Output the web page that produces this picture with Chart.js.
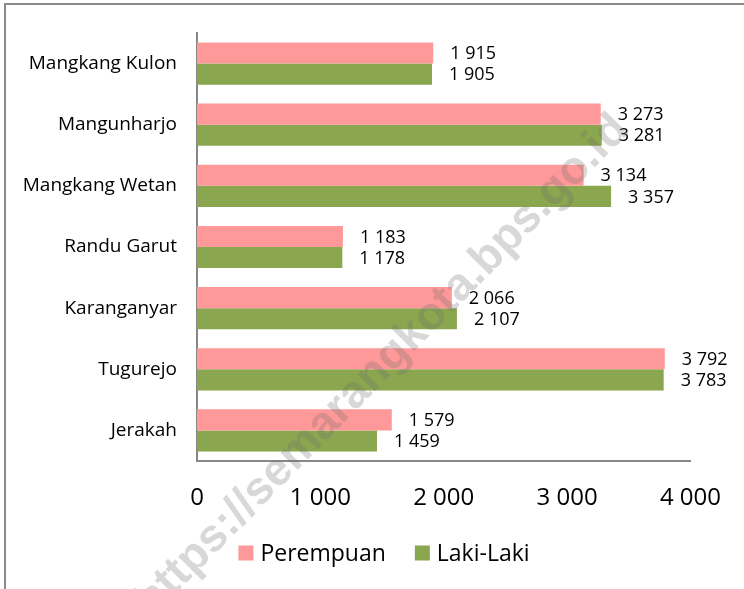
<!DOCTYPE html>
<html>
<head>
<meta charset="utf-8">
<script src="https://cdn.jsdelivr.net/npm/chart.js@4"></script>
<style>
  html, body { margin: 0; padding: 0; background: #fff; }
  #wrap { position: relative; width: 744px; height: 589px; overflow: hidden; }
  #frame { position: absolute; left: 4px; top: 3px; width: 900px; height: 900px;
           border-left: 2px solid #8a8a8a; border-top: 2px solid #8a8a8a; }
  canvas { position: absolute; left: 0; top: 0; }
</style>
</head>
<body>
<div id="wrap">
  <div id="frame"></div>
  <canvas id="c" width="744" height="589"></canvas>
</div>
<script>
const categories = ["Mangkang Kulon", "Mangunharjo", "Mangkang Wetan", "Randu Garut", "Karanganyar", "Tugurejo", "Jerakah"];
const perempuan = [1915, 3273, 3134, 1183, 2066, 3792, 1579];
const lakiLaki = [1905, 3281, 3357, 1178, 2107, 3783, 1459];
const xTicks = [0, 1000, 2000, 3000, 4000];
const seriesNames = ["Perempuan", "Laki-Laki"];
const seriesColors = ["#FF9999", "#8AA64E"];
const watermark = "https://semarangkota.bps.go.id";

const FONT = "'Open Sans', 'Noto Sans', sans-serif";
function fmt(v) { return String(v).replace(/\B(?=(\d{3})+(?!\d))/g, " "); }

const dataLabels = {
  id: 'dataLabels',
  afterDatasetsDraw(chart) {
    const ctx = chart.ctx;
    ctx.save();
    ctx.font = "18px " + FONT;
    ctx.fillStyle = "#000";
    ctx.textAlign = "left";
    ctx.textBaseline = "middle";
    chart.data.datasets.forEach((ds, i) => {
      const meta = chart.getDatasetMeta(i);
      meta.data.forEach((el, j) => {
        ctx.fillText(fmt(ds.data[j]), el.x + 17, el.y + 1);
      });
    });
    ctx.restore();
  }
};

const customLegend = {
  id: 'customLegend',
  afterDraw(chart) {
    const ctx = chart.ctx;
    ctx.save();
    ctx.font = "23px " + FONT;
    ctx.textBaseline = "middle";
    ctx.textAlign = "left";
    const box = 15, gapText = 7, gapItem = 29, cy = 553, cx = 384;
    const widths = chart.data.datasets.map(ds => box + gapText + ctx.measureText(ds.label).width);
    const total = widths.reduce((a, b) => a + b, 0) + gapItem * (widths.length - 1);
    let x = cx - total / 2;
    chart.data.datasets.forEach((ds, i) => {
      ctx.fillStyle = ds.backgroundColor;
      ctx.fillRect(x, cy - box / 2, box, box);
      ctx.fillStyle = "#000";
      ctx.fillText(ds.label, x + box + gapText, cy + 1);
      x += widths[i] + gapItem;
    });
    ctx.restore();
  }
};

const wm = {
  id: 'wm',
  afterDraw(chart) {
    const ctx = chart.ctx;
    ctx.save();
    ctx.font = "bold 46px 'Liberation Sans', Arial, sans-serif";
    const th = -45.5 * Math.PI / 180;
    const pre = ctx.measureText("https://semarangkota.").width;
    const bw = ctx.measureText("b").width;
    const off = pre + bw / 2;
    const ax = 488, ay = 258;
    ctx.translate(ax - off * Math.cos(th), ay - off * Math.sin(th));
    ctx.rotate(th);
    ctx.fillStyle = "rgba(110,110,110,0.27)";
    ctx.textAlign = "left";
    ctx.textBaseline = "middle";
    ctx.fillText(watermark, 0, 0);
    ctx.restore();
  }
};

new Chart(document.getElementById('c'), {
  type: 'bar',
  data: {
    labels: categories,
    datasets: [
      { label: seriesNames[0], data: perempuan, backgroundColor: seriesColors[0], categoryPercentage: 0.69, barPercentage: 1.0 },
      { label: seriesNames[1], data: lakiLaki, backgroundColor: seriesColors[1], categoryPercentage: 0.69, barPercentage: 1.0 }
    ]
  },
  options: {
    indexAxis: 'y',
    responsive: false,
    animation: false,
    layout: { padding: { left: 0, right: 52, top: 33, bottom: 0 } },
    scales: {
      x: {
        min: 0, max: 4000,
        afterBuildTicks(scale) { scale.ticks = xTicks.map(v => ({ value: v })); },
        grid: { display: false, drawTicks: false },
        border: { display: true, color: '#878787', width: 2 },
        ticks: { font: { size: 24, family: FONT }, color: '#000', padding: 23, callback: v => fmt(v), maxRotation: 0 },
        afterFit(scale) { scale.height = 128; }
      },
      y: {
        grid: { display: false, drawTicks: false },
        border: { display: true, color: '#878787', width: 2 },
        ticks: { font: { size: 19, family: FONT }, color: '#000', padding: 20 },
        afterFit(scale) { scale.width = 197; }
      }
    },
    plugins: {
      legend: { display: false },
      tooltip: { enabled: false }
    }
  },
  plugins: [dataLabels, customLegend, wm]
});
</script>
</body>
</html>
